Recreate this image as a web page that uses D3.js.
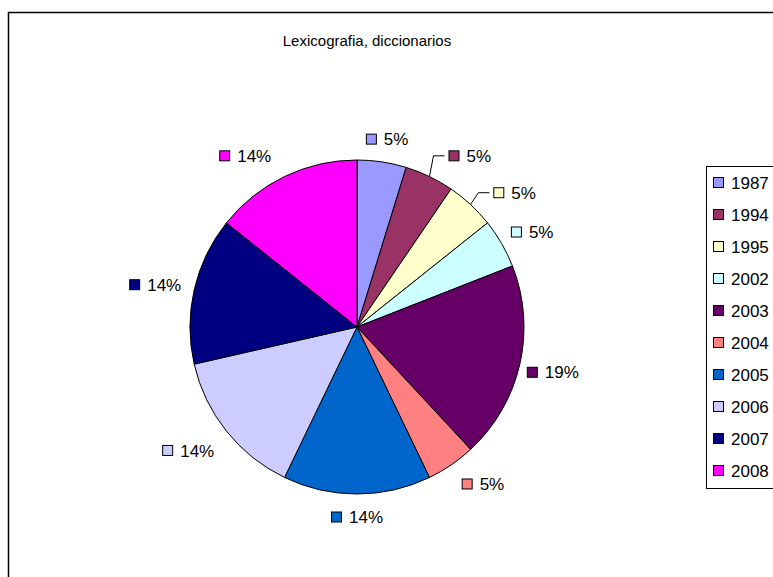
<!DOCTYPE html>
<html>
<head>
<meta charset="utf-8">
<script src="https://cdn.jsdelivr.net/npm/d3@7"></script>
<style>
  body { margin: 0; background: #fff; }
  text { font-family: "Liberation Sans", Arial, sans-serif; }
</style>
</head>
<body>
<div id="chart"></div>
<script>
// data (percent shares, 21 items total)
var years = ["1987", "1994", "1995", "2002", "2003", "2004", "2005", "2006", "2007", "2008"];
var counts = [1, 1, 1, 1, 4, 1, 3, 3, 3, 3];
var colors = ["#9999FF", "#993366", "#FFFFCC", "#CCFFFF", "#660066", "#FF8080", "#0066CC", "#CCCCFF", "#000080", "#FF00FF"];
var title = "Lexicografia, diccionarios";

// small label nudges (px) where excel moved the labels
var labelNudge = [[0, 0], [25, 0], [20, 5], [0, 0], [-6, 3], [12, 0], [0, 0], [-7, 5], [0, 0], [-22, 0]];
var leaderLines = [false, true, true, false, false, false, false, false, false, false];

var width = 773, height = 577;
var cx = 357, cy = 327, radius = 167;
var fontSize = 17;

var svg = d3.select("#chart")
  .append("svg")
  .attr("width", width)
  .attr("height", height);

// chart border (runs off to the right and bottom)
svg.append("rect")
  .attr("x", 8.5).attr("y", 12.5)
  .attr("width", width + 20).attr("height", height + 20)
  .attr("fill", "#fff")
  .attr("stroke", "#000")
  .attr("stroke-width", 1.5);

svg.append("text")
  .attr("x", 367)
  .attr("y", 46)
  .attr("text-anchor", "middle")
  .style("font-size", "15px")
  .text(title);

var total = d3.sum(counts);
var data = years.map(function (y, i) { return { year: y, value: counts[i], color: colors[i], i: i }; });

var pie = d3.pie().sort(null).value(function (d) { return d.value; });
var arc = d3.arc().innerRadius(0).outerRadius(radius);
var arcs = pie(data);

var g = svg.append("g").attr("transform", "translate(" + cx + "," + cy + ")");

g.selectAll("path.slice")
  .data(arcs)
  .enter()
  .append("path")
  .attr("class", "slice")
  .attr("d", arc)
  .attr("fill", function (d) { return d.data.color; })
  .attr("stroke", "#000")
  .attr("stroke-width", 1);

// data labels: swatch + percent text
var fmt = function (v) { return Math.round(v / total * 100) + "%"; };
var sw = 11, gap = 7, labelR = radius + 14;

arcs.forEach(function (d, i) {
  var a = (d.startAngle + d.endAngle) / 2;
  var s = Math.sin(a), c = Math.cos(a);
  var txt = fmt(d.data.value);
  var tw = txt.length === 2 ? fontSize * 1.445 : fontSize * 2.0;
  var w = sw + gap + tw;
  var bx = labelR * s + s * w / 2;
  var by = -labelR * c - c * 9;
  var left = bx - w / 2 + labelNudge[i][0];
  var midY = by + labelNudge[i][1];

  var lab = g.append("g");
  lab.append("rect")
    .attr("x", left + 0.5)
    .attr("y", midY - sw / 2 + 0.5)
    .attr("width", sw - 1)
    .attr("height", sw - 1)
    .attr("fill", d.data.color)
    .attr("stroke", "#000")
    .attr("stroke-width", 1);
  lab.append("text")
    .attr("x", left + sw + gap)
    .attr("y", midY)
    .attr("dy", "0.36em")
    .style("font-size", fontSize + "px")
    .text(txt);

  if (leaderLines[i]) {
    var p0 = [radius * s, -radius * c];
    g.append("polyline")
      .attr("points", [p0, [left - 15, midY], [left - 4, midY]].map(function (p) { return p.join(","); }).join(" "))
      .attr("fill", "none")
      .attr("stroke", "#000")
      .attr("stroke-width", 1);
  }
});

// legend
var legend = svg.append("g").attr("transform", "translate(706,166)");
legend.append("rect")
  .attr("x", 0.5).attr("y", 0.5)
  .attr("width", 120).attr("height", 322)
  .attr("fill", "#fff")
  .attr("stroke", "#000")
  .attr("stroke-width", 1);

var rowY = d3.scaleBand().domain(years).range([1, 321]);

years.forEach(function (y, i) {
  var yc = rowY(y) + rowY.bandwidth() / 2;
  legend.append("rect")
    .attr("x", 7.5).attr("y", yc - 5.5)
    .attr("width", 10).attr("height", 10)
    .attr("fill", colors[i])
    .attr("stroke", "#000")
    .attr("stroke-width", 1);
  legend.append("text")
    .attr("x", 25)
    .attr("y", yc)
    .attr("dy", "0.36em")
    .style("font-size", fontSize + "px")
    .text(y);
});
</script>
</body>
</html>
